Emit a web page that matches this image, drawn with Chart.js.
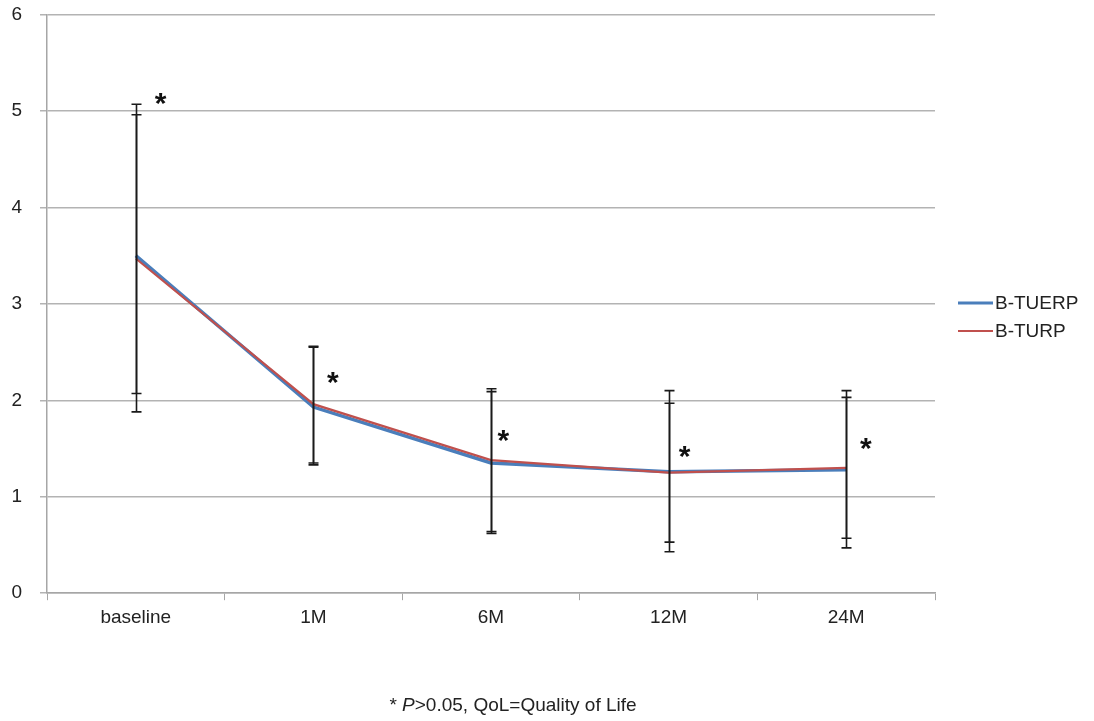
<!DOCTYPE html>
<html>
<head>
<meta charset="utf-8">
<script src="https://cdn.jsdelivr.net/npm/chart.js@4.4.0/dist/chart.umd.min.js"></script>
<style>
  html, body { margin: 0; padding: 0; background: #fff; overflow: hidden; }
  #wrap { width: 1094px; height: 734px; margin-top: -13px; position: relative; }
</style>
</head>
<body>
<div id="wrap"><canvas id="qolChart"></canvas></div>
<script>
const categories = ['baseline', '1M', '6M', '12M', '24M'];

const tuerpMean = [3.50, 1.93, 1.35, 1.26, 1.28];
const tuerpUpper = [4.96, 2.55, 2.09, 1.97, 2.03];
const tuerpLower = [2.07, 1.33, 0.62, 0.53, 0.57];

const turpMean = [3.47, 1.96, 1.38, 1.25, 1.30];
const turpUpper = [5.07, 2.56, 2.12, 2.10, 2.10];
const turpLower = [1.88, 1.35, 0.64, 0.43, 0.47];

// significance asterisks (category position, y value)
const starX = [0.14, 1.11, 2.07, 3.09, 4.11];
const starY = [5.11, 2.22, 1.62, 1.45, 1.54];

const yTicks = [0, 1, 2, 3, 4, 5, 6];

const FONT = "'Liberation Sans Narrow', 'Arial Narrow', 'Liberation Sans', Arial, sans-serif";

// draws the black error bars for both series
const errorBars = {
    id: 'errorBars',
    afterDatasetsDraw(chart) {
        const ctx = chart.ctx;
        const xs = chart.scales.x;
        const ys = chart.scales.y;
        const pairs = [[tuerpUpper, tuerpLower], [turpUpper, turpLower]];
        ctx.save();
        ctx.strokeStyle = '#1a1a1a';
        ctx.lineWidth = 1.6;
        pairs.forEach(function (p) {
            for (let i = 0; i < categories.length; i++) {
                const x = Math.round(xs.getPixelForValue(i)) + 0.5;
                const yTop = ys.getPixelForValue(p[0][i]);
                const yBot = ys.getPixelForValue(p[1][i]);
                ctx.beginPath();
                ctx.moveTo(x, yTop);
                ctx.lineTo(x, yBot);
                ctx.moveTo(x - 5, yTop);
                ctx.lineTo(x + 5, yTop);
                ctx.moveTo(x - 5, yBot);
                ctx.lineTo(x + 5, yBot);
                ctx.stroke();
            }
        });
        ctx.restore();
    }
};

const stars = {
    id: 'stars',
    afterDatasetsDraw(chart) {
        const ctx = chart.ctx;
        const xs = chart.scales.x;
        const ys = chart.scales.y;
        ctx.save();
        ctx.fillStyle = '#111';
        ctx.font = 'bold 30px ' + FONT;
        ctx.textAlign = 'center';
        ctx.textBaseline = 'alphabetic';
        for (let i = 0; i < starX.length; i++) {
            ctx.fillText('*', xs.getPixelForValue(starX[i]), ys.getPixelForValue(starY[i]) + 13);
        }
        ctx.restore();
    }
};

// legend on the right: short coloured line + label
const sideLegend = {
    id: 'sideLegend',
    afterDraw(chart) {
        const ctx = chart.ctx;
        const x0 = chart.chartArea.right + 23;
        ctx.save();
        ctx.font = '19px ' + FONT;
        ctx.textBaseline = 'middle';
        ctx.fillStyle = '#222';
        chart.data.datasets.forEach(function (ds, i) {
            const y = 316 + i * 28;
            ctx.strokeStyle = ds.borderColor;
            ctx.lineWidth = i === 0 ? 3 : 2;
            ctx.beginPath();
            ctx.moveTo(x0, y);
            ctx.lineTo(x0 + 35, y);
            ctx.stroke();
            ctx.fillText(ds.label, x0 + 37, y + 1);
        });
        ctx.restore();
    }
};

const footnote = {
    id: 'footnote',
    afterDraw(chart) {
        const ctx = chart.ctx;
        const parts = [
            ['* ', 'normal'],
            ['P', 'italic'],
            ['>0.05, QoL=Quality of Life', 'normal']
        ];
        ctx.save();
        ctx.fillStyle = '#222';
        ctx.textBaseline = 'middle';
        let total = 0;
        parts.forEach(function (p) {
            ctx.font = p[1] + ' 19px ' + FONT;
            total += ctx.measureText(p[0]).width;
        });
        let x = 513 - total / 2;
        parts.forEach(function (p) {
            ctx.font = p[1] + ' 19px ' + FONT;
            ctx.fillText(p[0], x, 719);
            x += ctx.measureText(p[0]).width;
        });
        ctx.restore();
    }
};

const ctx = document.getElementById('qolChart').getContext('2d');
const chart = new Chart(ctx, {
    type: 'line',
    data: {
        labels: categories,
        datasets: [{
            label: 'B-TUERP',
            data: tuerpMean,
            borderColor: '#4a7ebb',
            backgroundColor: '#4a7ebb',
            borderWidth: 3.5,
            pointRadius: 0,
            tension: 0,
            order: 1
        }, {
            label: 'B-TURP',
            data: turpMean,
            borderColor: '#c0504d',
            backgroundColor: '#c0504d',
            borderWidth: 2.2,
            pointRadius: 0,
            tension: 0,
            order: 0
        }]
    },
    options: {
        responsive: true,
        maintainAspectRatio: false,
        animation: false,
        layout: { padding: { top: 0, left: 0, right: 159, bottom: 86 } },
        plugins: {
            tooltip: { enabled: false },
            legend: { display: false }
        },
        scales: {
            x: {
                offset: true,
                grid: {
                    offset: true,
                    drawOnChartArea: false,
                    drawTicks: true,
                    tickLength: 7,
                    color: '#a6a6a6'
                },
                border: { color: '#a6a6a6', width: 1.5 },
                ticks: {
                    color: '#222',
                    font: { family: FONT, size: 19 },
                    padding: 6
                }
            },
            y: {
                min: 0,
                max: 6,
                afterBuildTicks(scale) {
                    scale.ticks = yTicks.map(function (v) { return { value: v }; });
                },
                afterFit(scale) {
                    scale.width = 47;
                },
                grid: {
                    color: '#b3b3b3',
                    lineWidth: 1.5,
                    tickLength: 7
                },
                border: { color: '#a6a6a6', width: 1.5 },
                ticks: {
                    color: '#222',
                    font: { family: FONT, size: 19, lineHeight: 1 },
                    padding: 18
                }
            }
        }
    },
    plugins: [errorBars, stars, sideLegend, footnote]
});
</script>
</body>
</html>
